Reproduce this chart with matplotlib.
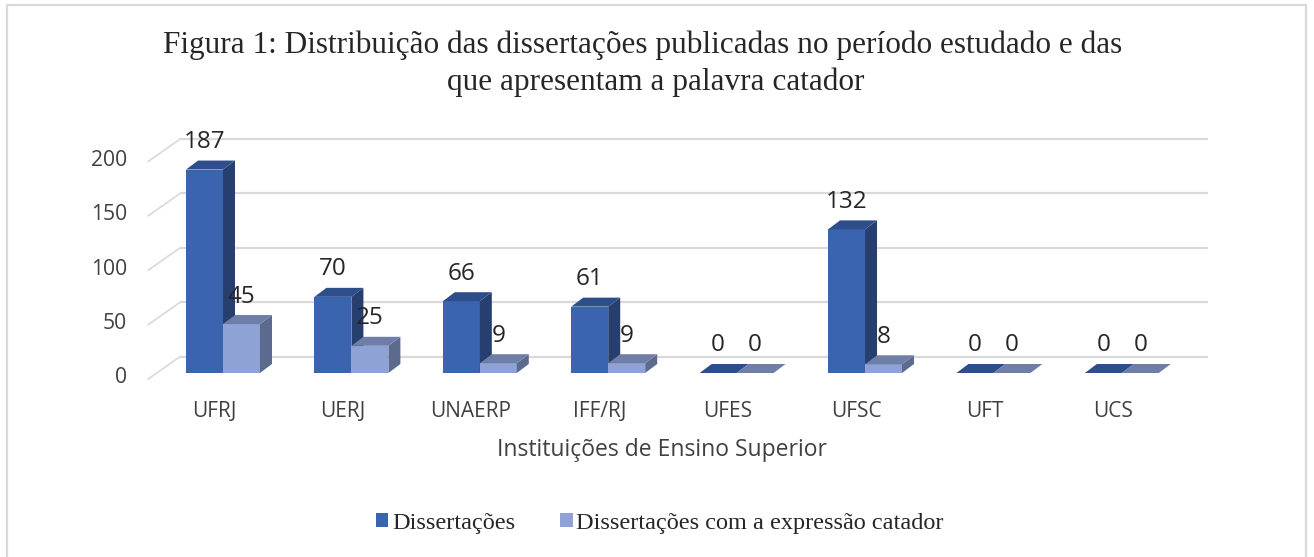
import matplotlib
matplotlib.use("Agg")
import matplotlib.pyplot as plt
from matplotlib.patches import Polygon, Rectangle, Patch
import numpy as np

# ---- data ----
categories = ["UFRJ", "UERJ", "UNAERP", "IFF/RJ", "UFES", "UFSC", "UFT", "UCS"]
dissertacoes = [187, 70, 66, 61, 0, 132, 0, 0]
com_catador = [45, 25, 9, 9, 0, 8, 0, 0]
y_ticks = [0, 50, 100, 150, 200]
series_names = ["Dissertações", "Dissertações com a expressão catador"]
title_lines = ["Figura 1: Distribuição das dissertações publicadas no período estudado e das",
               "que apresentam a palavra catador"]
x_title = "Instituições de Ensino Superior"

# ---- style ----
W_PX, H_PX = 1314, 557
fig = plt.figure(figsize=(W_PX / 100, H_PX / 100), dpi=100)
fig.patch.set_facecolor("white")

SANS = ["Open Sans", "DejaVu Sans"]
SERIF = ["Liberation Serif", "DejaVu Serif"]
TXT = "#404040"

dark = dict(front="#3A64AF", side="#263F6E", top="#2D4E8B")
light = dict(front="#8FA2D5", side="#5C6A90", top="#6E7EA7")

# border
fig.add_artist(Rectangle((7 / W_PX, -0.02), (1306 - 7) / W_PX, 1 - 5 / H_PX + 0.02,
                         transform=fig.transFigure, fill=False,
                         edgecolor="#D9D9D9", linewidth=1.6))

# axes placement
xlim = (-0.6, 7.6)
ylim = (-10, 230)
ax = fig.add_axes([0.11108, 0.31081, 0.8013, 0.46879])
ax.set_xlim(*xlim)
ax.set_ylim(*ylim)
ax.axis("off")

# 3D geometry (data units)
bar_w = 0.288
ddx, ddy = 0.0935, 8.27          # bar depth
wall_dy = 15.0                    # back wall offset above bar base
front_dy = -5.5                   # front floor edge below bar base
x_front, x_wall, x_end = -0.582, -0.335, 7.671

# back wall gridlines + diagonal floor/side lines
for v in y_ticks:
    ax.plot([x_wall, x_end], [v + wall_dy, v + wall_dy], color="#D9D9D9",
            lw=1.6, zorder=1, clip_on=False, solid_capstyle="butt")
    ax.plot([x_front, x_wall], [v + front_dy, v + wall_dy], color="#D9D9D9",
            lw=1.2, zorder=1, clip_on=False)
    ax.text(x_front - 0.165, v - 4.5, str(v), ha="right", va="center",
            fontsize=15.2, color=TXT, family=SANS)

x = np.arange(len(categories))


def draw_series(xc, vals, col, z):
    bars = ax.bar(xc, vals, width=bar_w, color=col["front"], zorder=z,
                  linewidth=0, clip_on=False)
    for xi, v in zip(xc, vals):
        x0, x1 = xi - bar_w / 2, xi + bar_w / 2
        side = Polygon([(x1, 0), (x1 + ddx, ddy), (x1 + ddx, v + ddy), (x1, v)],
                       closed=True, facecolor=col["side"], edgecolor="none",
                       zorder=z, clip_on=False)
        top = Polygon([(x0, v), (x1, v), (x1 + ddx, v + ddy), (x0 + ddx, v + ddy)],
                      closed=True, facecolor=col["top"], edgecolor="none",
                      zorder=z, clip_on=False)
        ax.add_patch(side)
        ax.add_patch(top)
        ax.text(xi, v + 25.3, str(v), ha="center", va="center",
                fontsize=17.5, color="#262626", family=SANS, zorder=10)
    return bars


for i in range(len(categories)):
    draw_series([x[i] - bar_w / 2], [dissertacoes[i]], dark, 3 + 2 * i)
    draw_series([x[i] + bar_w / 2], [com_catador[i]], light, 4 + 2 * i)

# category labels
for xi, c in zip(x, categories):
    ax.text(xi - 0.07, -35.3, c, ha="center", va="center",
            fontsize=15, color=TXT, family=SANS)

# axis title
fig.text(662 / W_PX, 1 - 450 / H_PX, x_title, ha="center", va="center",
         fontsize=16.5, color=TXT, family=SANS)

# title
fig.text(643 / W_PX, 1 - 45 / H_PX, title_lines[0], ha="center", va="center",
         fontsize=22.5, color="#262626", family=SERIF)
fig.text(656 / W_PX, 1 - 82 / H_PX, title_lines[1], ha="center", va="center",
         fontsize=22.5, color="#262626", family=SERIF)

# legend
handles = [Patch(facecolor=dark["front"]), Patch(facecolor=light["front"])]
fig.legend(handles, series_names, loc="center", ncol=2, frameon=False,
           bbox_to_anchor=(660 / W_PX, 1 - 523 / H_PX),
           prop=dict(family=SERIF, size=17.5), labelcolor="#262626",
           handlelength=0.5, handleheight=0.5, handletextpad=0.16,
           columnspacing=1.85)

fig.savefig("out.png", dpi=100)
